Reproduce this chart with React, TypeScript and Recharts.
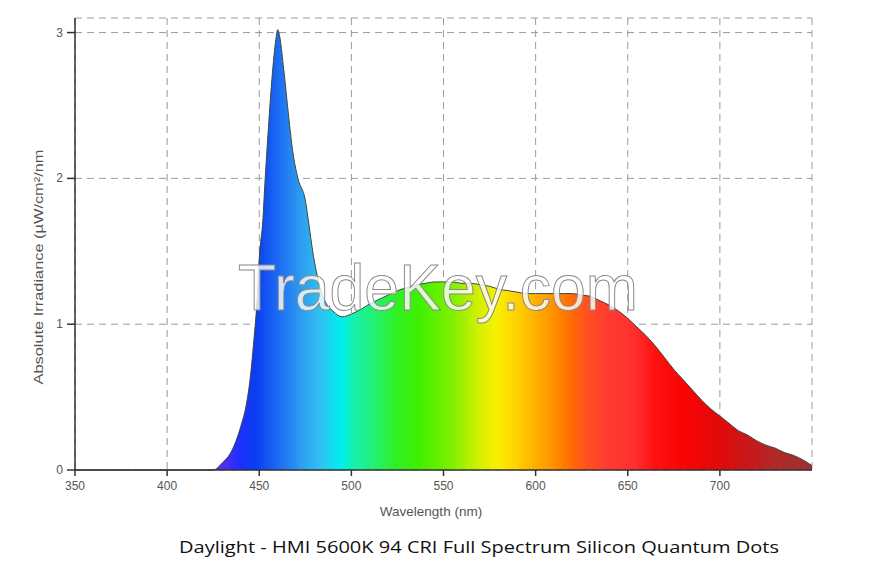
import { AreaChart, Area, XAxis, YAxis, CartesianGrid } from 'recharts';

// wavelength (nm) and absolute irradiance
const wavelengths = [
  350, 380, 410, 425, 430, 435, 440, 443, 445, 447, 449, 450, 452, 453, 455, 457, 459, 460, 461, 463,
  466, 468, 471, 475, 477, 479, 481, 483, 486, 490, 495, 500, 505, 510, 515, 520, 525, 530, 535, 540,
  545, 550, 555, 560, 565, 570, 575, 580, 585, 590, 595, 600, 605, 610, 615, 620, 625, 630, 635, 640,
  645, 650, 655, 660, 665, 670, 675, 680, 685, 690, 695, 700, 705, 710, 715, 720, 725, 730, 735, 740,
  745, 750,
];
const irradiance = [
  0, 0, 0, 0, 0.05, 0.13, 0.3, 0.45, 0.62, 0.88, 1.2, 1.45, 1.72, 1.95, 2.35, 2.7, 2.95, 3.02, 2.98, 2.78,
  2.42, 2.2, 2.0, 1.85, 1.68, 1.5, 1.36, 1.25, 1.15, 1.09, 1.05, 1.07, 1.1, 1.14, 1.17, 1.2, 1.23, 1.25, 1.27, 1.28,
  1.29, 1.29, 1.29, 1.28, 1.28, 1.27, 1.26, 1.24, 1.23, 1.22, 1.21, 1.21, 1.21, 1.21, 1.21, 1.21, 1.2, 1.19, 1.16, 1.13,
  1.09, 1.04, 0.98, 0.92, 0.85, 0.77, 0.69, 0.62, 0.55, 0.48, 0.42, 0.37, 0.32, 0.27, 0.24, 0.2, 0.17, 0.15, 0.12, 0.1,
  0.07, 0.03,
];
const xTicks = [350, 400, 450, 500, 550, 600, 650, 700, 750];
const yTicks = [0, 1, 2, 3];

// spectrum colour stops, by wavelength
const stopNm = [350, 425, 432, 440, 449, 462, 472, 483, 494, 502, 510, 525, 537, 555, 570, 579, 590, 600, 610, 618, 628, 640, 653, 665, 680, 700, 715, 730, 750];
const stopColor = ['#6a2ae0', '#6a2ae0', '#4a2cf4', '#1a30ff', '#0a40f0', '#1f72f4', '#2c9af0', '#30c0f0', '#00eef0', '#18f0a8', '#20f080', '#30f020', '#40f000', '#80f000', '#d8f000', '#f8f000', '#ffd000', '#ffb000', '#ff9000', '#ff7000', '#ff5020', '#ff3a30', '#ff3030', '#ff1010', '#fa0404', '#e00a0a', '#c81818', '#b02828', '#a03030'];

const data = wavelengths.map((w, i) => ({ w, v: irradiance[i] }));

const font = 'Arial, "Liberation Sans", sans-serif';

const XTick = (props: any) => {
  const { x, y, payload } = props;
  if (payload.value === 750) return null;
  return (
    <g>
      <line x1={x} x2={x} y1={y} y2={y + 6} stroke="#333" strokeWidth={1.5} />
      <text x={x} y={y + 20} textAnchor="middle" fontSize={12} fontFamily={font} fill="#555">{payload.value}</text>
    </g>
  );
};

const YTick = (props: any) => {
  const { x, y, payload } = props;
  return (
    <g>
      <line x1={x - 8} x2={x} y1={y} y2={y} stroke="#333" strokeWidth={1.5} />
      <text x={x - 12} y={y + 4} textAnchor="end" fontSize={12} fontFamily={font} fill="#555">{payload.value}</text>
    </g>
  );
};

export default function App() {
  return (
    <div style={{ position: 'absolute', left: 0, top: 0, width: 877, height: 587, background: '#fff' }}>
      <AreaChart width={877} height={587} data={data} margin={{ top: 18, right: 65, left: 30, bottom: 87 }}>
        <defs>
          <linearGradient id="spectrum" x1="0" y1="0" x2="1" y2="0">
            {stopNm.map((nm, i) => (
              <stop key={i} offset={(nm - 350) / 400} stopColor={stopColor[i]} />
            ))}
          </linearGradient>
        </defs>
        <CartesianGrid stroke="#9a9a9a" strokeDasharray="7 5" />
        <XAxis
          dataKey="w"
          type="number"
          domain={[350, 750]}
          ticks={xTicks}
          height={30}
          tickSize={0}
          tickMargin={0}
          tickLine={false}
          axisLine={{ stroke: '#333', strokeWidth: 1.5 }}
          tick={<XTick />}
          interval={0}
        />
        <YAxis
          type="number"
          domain={[0, 3.1]}
          ticks={yTicks}
          width={45}
          tickSize={0}
          tickMargin={0}
          tickLine={false}
          axisLine={{ stroke: '#333', strokeWidth: 1.5 }}
          tick={<YTick />}
          interval={0}
        />
        <Area
          type="monotone"
          dataKey="v"
          stroke="#3a4a3a"
          strokeWidth={1}
          fill="url(#spectrum)"
          fillOpacity={1}
          isAnimationActive={false}
          dot={false}
          activeDot={false}
        />
      </AreaChart>
      <svg width={877} height={587} style={{ position: 'absolute', left: 0, top: 0, pointerEvents: 'none' }}>
        <text
          x={438}
          y={310}
          textAnchor="middle"
          fontSize={64}
          fontFamily={font}
          fill="#ffffff"
          fillOpacity={0.8}
          stroke="#8a8a8a"
          strokeWidth={1}
          textLength={400}
          lengthAdjust="spacingAndGlyphs"
        >
          TradeKey.com
        </text>
        <text
          transform="translate(43,267) rotate(-90)"
          textAnchor="middle"
          fontSize={13.5}
          fontFamily={font}
          fill="#555"
          textLength={235}
          lengthAdjust="spacingAndGlyphs"
        >
          Absolute Irradiance (µW/cm²/nm
        </text>
        <text x={431} y={516} textAnchor="middle" fontSize={13.5} fontFamily={font} fill="#555">
          Wavelength (nm)
        </text>
        <text
          x={479}
          y={553}
          textAnchor="middle"
          fontSize={17}
          fontFamily='"Open Sans", "Noto Sans", sans-serif'
          fill="#111"
          textLength={600}
          lengthAdjust="spacingAndGlyphs"
        >
          Daylight - HMI 5600K 94 CRI Full Spectrum Silicon Quantum Dots
        </text>
      </svg>
    </div>
  );
}
